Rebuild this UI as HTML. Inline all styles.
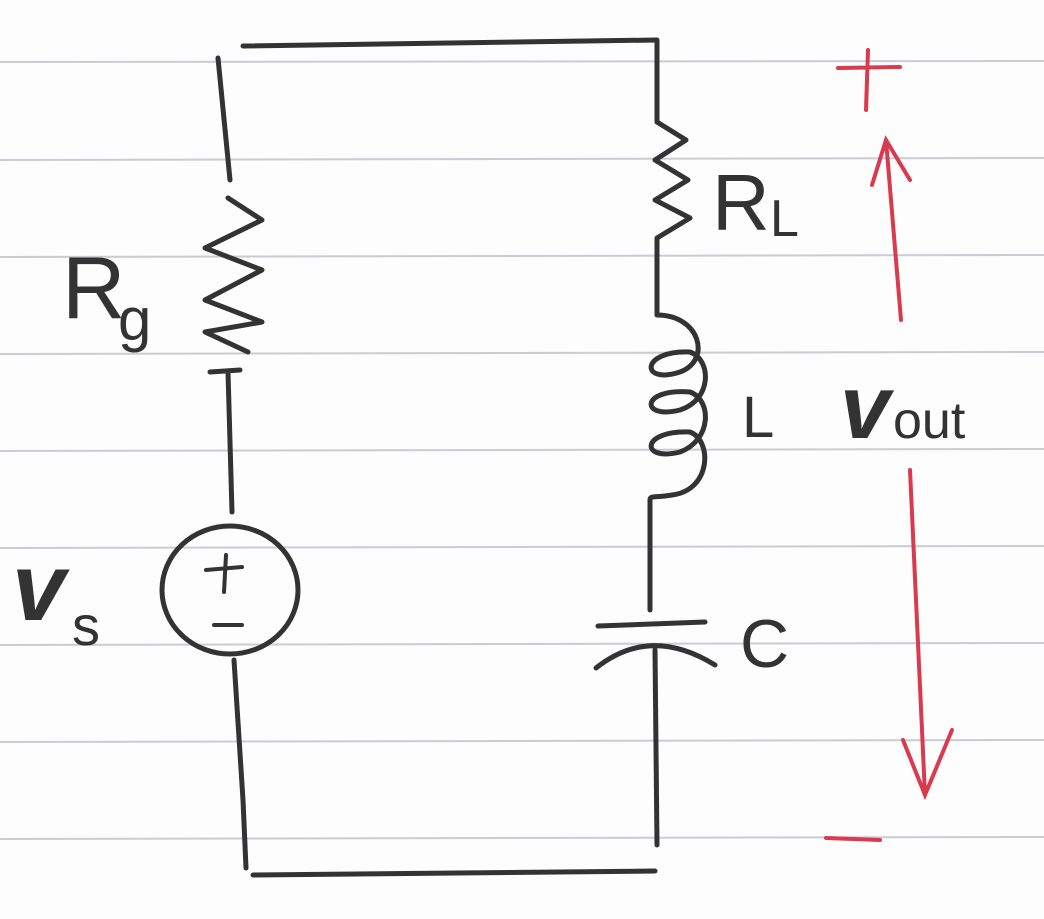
<!DOCTYPE html>
<html><head><meta charset="utf-8"><style>
html,body{margin:0;padding:0;background:#fff}
svg{display:block}
text{font-family:"Liberation Sans",sans-serif;fill:#333}
</style></head><body>
<svg width="1044" height="919" viewBox="0 0 1044 919" xmlns="http://www.w3.org/2000/svg">
<rect width="1044" height="919" fill="#fdfdfd"/>
<g stroke="#c9ccd4" stroke-width="2">
<line x1="0" y1="62" x2="1044" y2="61"/>
<line x1="0" y1="160" x2="1044" y2="158"/>
<line x1="0" y1="257" x2="1044" y2="255"/>
<line x1="0" y1="354" x2="1044" y2="352"/>
<line x1="0" y1="451" x2="1044" y2="449"/>
<line x1="0" y1="548" x2="1044" y2="546"/>
<line x1="0" y1="645" x2="1044" y2="643"/>
<line x1="0" y1="742" x2="1044" y2="740"/>
<line x1="0" y1="839" x2="1044" y2="837"/>
</g>
<g fill="none" stroke="#333" stroke-width="5" stroke-linecap="round" stroke-linejoin="round">
<path d="M243,46 L657,40 L657,122"/>
<path d="M657,122 L686,140 L655,160 L688,180 L655,200 L690,218 L657,238 L657,315"/>
<path d="M657,315 C700,315 712,360 680,372 C640,385 640,350 690,352 C712,360 712,400 680,410 C640,420 640,388 690,392 C712,400 712,440 680,452 C640,462 640,430 690,432 C712,440 712,490 672,495 C655,498 650,495 650,500 L650,610"/>
<path d="M598,626 L705,622 M596,668 Q650,625 715,665 M655,650 L657,845"/>
<path d="M253,875 L655,871"/>
<path d="M218,58 L230,180"/>
<path d="M228,198 L262,220 L205,248 L262,270 L205,300 L262,322 L205,332 L248,352"/>
<path d="M210,372 L240,370 M228,372 L232,512"/>
<ellipse cx="230" cy="590" rx="68" ry="64"/>
<path stroke-width="4" d="M206,570 L242,567 M226,555 L224,592"/>
<path stroke-width="4" d="M214,625 L242,625"/>
<path d="M234,660 L243,800 L246,868"/>
</g>
<g>
<text x="62" y="318" font-size="88">R</text>
<text x="118" y="340" font-size="60">g</text>
<text x="12" y="620" font-size="96" font-weight="bold" font-style="italic">v</text>
<text x="72" y="645" font-size="56">s</text>
<text x="712" y="230" font-size="80">R</text>
<text x="770" y="236" font-size="52">L</text>
<text x="742" y="437" font-size="58">L</text>
<text x="740" y="667" font-size="68">C</text>
<text x="840" y="438" font-size="90" font-weight="bold" font-style="italic">v</text>
<text x="893" y="438" font-size="52">out</text>
</g>
<g fill="none" stroke="#d83a4e" stroke-width="4" stroke-linecap="round">
<path d="M838,68 L900,67 M868,50 L866,110"/>
<path d="M901,320 L886,140 M872,185 L886,140 L910,180"/>
<path d="M910,470 L925,795 M903,740 L925,795 L952,730"/>
<path d="M826,838 L880,840"/>
</g>
</svg>
</body></html>
